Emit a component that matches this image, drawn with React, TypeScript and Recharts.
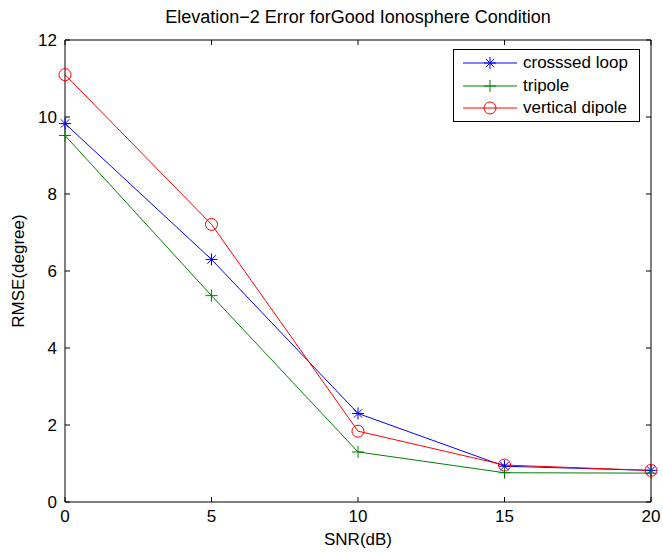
import React from 'react';
import { LineChart, Line, XAxis, YAxis } from 'recharts';

const snr = [0, 5, 10, 15, 20];
const crossedLoop = [9.83, 6.3, 2.3, 0.93, 0.82];
const tripole = [9.52, 5.36, 1.3, 0.76, 0.75];
const verticalDipole = [11.1, 7.21, 1.84, 0.96, 0.82];

const xTicks = [0, 5, 10, 15, 20];
const yTicks = [0, 2, 4, 6, 8, 10, 12];

const SERIES = [
    { key: 'crossed', name: 'crosssed loop', color: '#0000ff', marker: 'star' },
    { key: 'tripole', name: 'tripole', color: '#008000', marker: 'plus' },
    { key: 'dipole', name: 'vertical dipole', color: '#ff0000', marker: 'circle' },
];

const data = snr.map((x, i) => ({
    snr: x,
    crossed: crossedLoop[i],
    tripole: tripole[i],
    dipole: verticalDipole[i],
}));

const FONT = '"Liberation Sans", Arial, sans-serif';
const FS = 17;

function Marker({ cx, cy, type, color }: any) {
    if (cx == null || cy == null) return null;
    if (type === 'circle') {
        return <circle cx={cx} cy={cy} r={6} fill="none" stroke={color} strokeWidth={1} />;
    }
    if (type === 'plus') {
        return (
            <g stroke={color} strokeWidth={1}>
                <line x1={cx - 6} y1={cy} x2={cx + 6} y2={cy} />
                <line x1={cx} y1={cy - 6} x2={cx} y2={cy + 6} />
            </g>
        );
    }
    // asterisk
    const d = 4.2;
    return (
        <g stroke={color} strokeWidth={1}>
            <line x1={cx - 6} y1={cy} x2={cx + 6} y2={cy} />
            <line x1={cx} y1={cy - 6} x2={cx} y2={cy + 6} />
            <line x1={cx - d} y1={cy - d} x2={cx + d} y2={cy + d} />
            <line x1={cx - d} y1={cy + d} x2={cx + d} y2={cy - d} />
        </g>
    );
}

function LegendBox() {
    return (
        <div style={{
            position: 'absolute', left: 453, top: 49, width: 187, height: 73,
            border: '1px solid #000', background: '#fff',
            boxSizing: 'border-box', fontFamily: FONT, fontSize: FS, paddingTop: 2,
        }}>
            {SERIES.map(s => (
                <div key={s.key} style={{ display: 'flex', alignItems: 'center', height: 22.5 }}>
                    <svg width={69} height={20} style={{ display: 'block', flex: 'none' }}>
                        <line x1={9} y1={10} x2={63} y2={10} stroke={s.color} strokeWidth={1} />
                        <Marker cx={36} cy={10} type={s.marker} color={s.color} />
                    </svg>
                    <span style={{ color: '#000', lineHeight: '20px', whiteSpace: 'nowrap' }}>{s.name}</span>
                </div>
            ))}
        </div>
    );
}

const blank = () => '';

export default function App() {
    return (
        <div style={{ position: 'absolute', left: 0, top: 0, width: 663, height: 553, background: '#fff' }}>
            <div style={{
                position: 'absolute', left: 65, width: 586, top: 7, textAlign: 'center',
                fontFamily: FONT, fontSize: 18, color: '#000', whiteSpace: 'nowrap',
            }}>
                Elevation−2 Error forGood Ionosphere Condition
            </div>
            <LineChart width={663} height={553} data={data}
                margin={{ top: 10, right: 0, bottom: 0, left: 0 }}>
                <XAxis dataKey="snr" type="number" domain={[0, 20]} ticks={xTicks}
                    height={51} tickSize={-5} tickMargin={13}
                    axisLine={{ stroke: '#000' }} tickLine={{ stroke: '#000' }}
                    tick={{ fill: '#000', fontSize: FS, fontFamily: FONT }}
                    label={{ value: 'SNR(dB)', position: 'insideBottom', offset: 8, fill: '#000', fontSize: FS, fontFamily: FONT }} />
                {/* mirrored top/right axes close the box, labels left blank */}
                <XAxis xAxisId="top" dataKey="snr" type="number" domain={[0, 20]} ticks={xTicks}
                    orientation="top" height={30} tickSize={-5} tickFormatter={blank}
                    axisLine={{ stroke: '#000' }} tickLine={{ stroke: '#000' }} />
                <YAxis type="number" domain={[0, 12]} ticks={yTicks} width={65}
                    tickSize={-5} tickMargin={13}
                    axisLine={{ stroke: '#000' }} tickLine={{ stroke: '#000' }}
                    tick={{ fill: '#000', fontSize: FS, fontFamily: FONT }}
                    label={{ value: 'RMSE(degree)', angle: -90, position: 'insideLeft', offset: 18, fill: '#000', fontSize: FS, fontFamily: FONT, style: { textAnchor: 'middle' } }} />
                <YAxis yAxisId="right" type="number" domain={[0, 12]} ticks={yTicks}
                    orientation="right" width={12} tickSize={-5} tickFormatter={blank}
                    axisLine={{ stroke: '#000' }} tickLine={{ stroke: '#000' }} />
                <Line xAxisId="top" yAxisId="right" dataKey="crossed" stroke="#fff" strokeOpacity={0}
                    dot={false} activeDot={false} legendType="none" isAnimationActive={false} />
                {SERIES.map(s => (
                    <Line key={s.key} type="linear" dataKey={s.key} name={s.name}
                        stroke={s.color} strokeWidth={1} isAnimationActive={false}
                        dot={(p: any) => <Marker key={`${s.key}-${p.index}`} cx={p.cx} cy={p.cy} type={s.marker} color={s.color} />}
                        activeDot={false} />
                ))}
            </LineChart>
            <LegendBox />
        </div>
    );
}
